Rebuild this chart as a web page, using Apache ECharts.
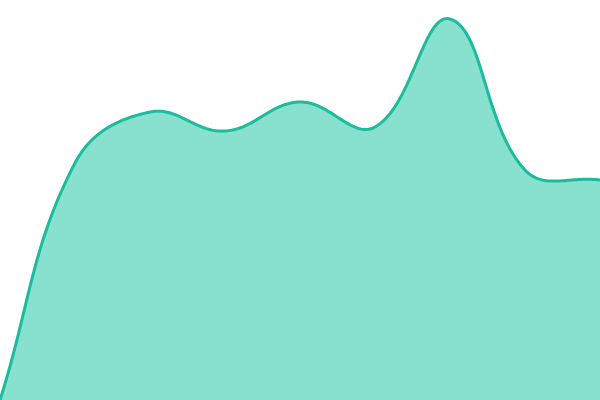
<!DOCTYPE html>
<html><head><meta charset="utf-8">
<script src="https://cdn.jsdelivr.net/npm/echarts@6/dist/echarts.min.js"></script>
<style>html,body{margin:0;padding:0;background:#fff}#c{width:600px;height:400px}</style>
</head><body><div id="c"></div>
<script>
const categories = ['1','2','3','4','5','6','7','8','9'];
const values = [0, 237, 288, 269, 298, 273, 381, 230, 220];
const tension = 0.4;

function splinePoints(pts, t) {
  const cps = pts.map((cur, i) => {
    const prev = pts[i - 1] || cur, next = pts[i + 1] || cur;
    const d01 = Math.hypot(cur[0] - prev[0], cur[1] - prev[1]);
    const d12 = Math.hypot(next[0] - cur[0], next[1] - cur[1]);
    let s01 = d01 / (d01 + d12), s12 = d12 / (d01 + d12);
    if (isNaN(s01)) s01 = 0; if (isNaN(s12)) s12 = 0;
    const fa = t * s01, fb = t * s12;
    return {
      p: [cur[0] - fa * (next[0] - prev[0]), cur[1] - fa * (next[1] - prev[1])],
      n: [cur[0] + fb * (next[0] - prev[0]), cur[1] + fb * (next[1] - prev[1])]
    };
  });
  const out = [pts[0]];
  const steps = 40;
  for (let i = 0; i < pts.length - 1; i++) {
    const p0 = pts[i], p1 = cps[i].n, p2 = cps[i + 1].p, p3 = pts[i + 1];
    for (let k = 1; k <= steps; k++) {
      const u = k / steps, w = 1 - u;
      out.push([
        w*w*w*p0[0] + 3*w*w*u*p1[0] + 3*w*u*u*p2[0] + u*u*u*p3[0],
        w*w*w*p0[1] + 3*w*w*u*p1[1] + 3*w*u*u*p2[1] + u*u*u*p3[1]
      ]);
    }
  }
  return out;
}

const chart = echarts.init(document.getElementById('c'));
chart.setOption({
  animation: false,
  grid: {left: 0, right: 0, top: 0, bottom: 0},
  xAxis: {type: 'category', data: categories, boundaryGap: false, show: false},
  yAxis: {type: 'value', min: 0, max: 400, show: false},
  series: [{
    type: 'custom',
    data: values.map((v, i) => [i, v]),
    renderItem: function (params, api) {
      if (params.dataIndex !== 0) return null;
      const pts = values.map((v, i) => api.coord([i, v]));
      const curve = splinePoints(pts, tension);
      const base0 = api.coord([0, 0]);
      const base1 = api.coord([values.length - 1, 0]);
      const area = curve.concat([base1, base0]);
      return {
        type: 'group',
        children: [
          {type: 'polygon', shape: {points: area}, style: {fill: '#88e0cf'}},
          {type: 'polyline', shape: {points: curve}, style: {fill: 'none', stroke: '#1abc9c', lineWidth: 3, lineJoin: 'round'}}
        ]
      };
    }
  }]
});
</script></body></html>
